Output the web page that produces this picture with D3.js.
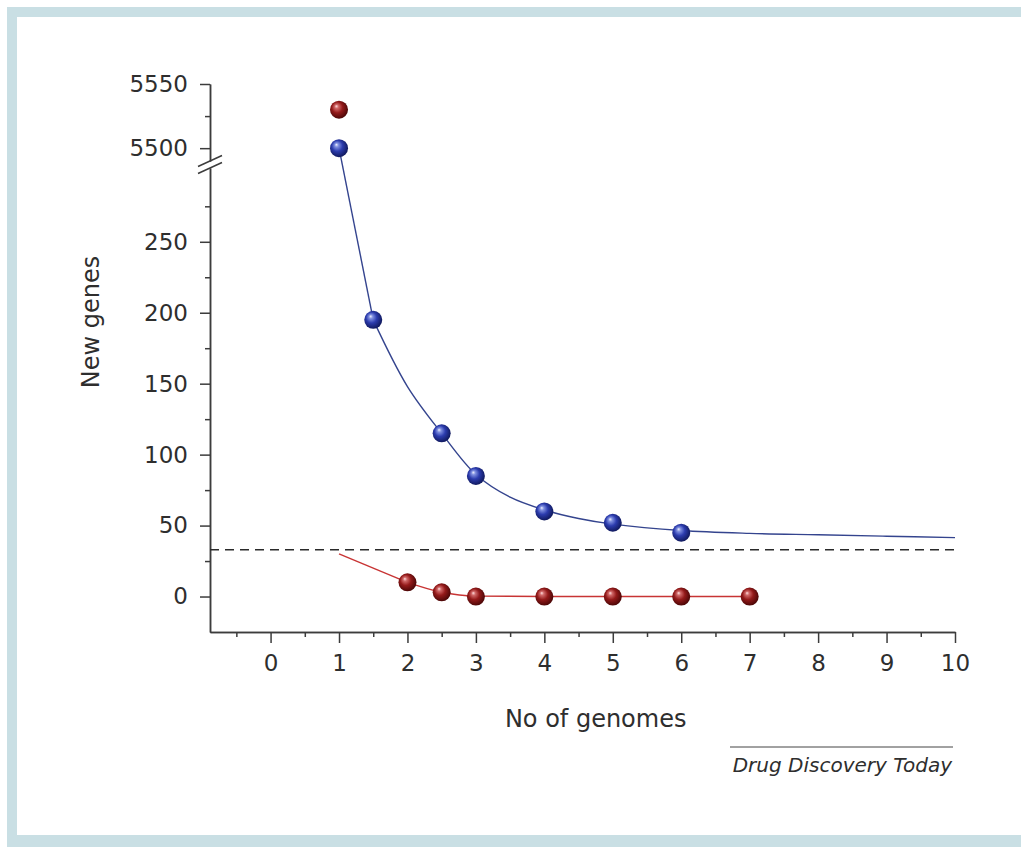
<!DOCTYPE html>
<html><head><meta charset="utf-8">
<script src="https://cdn.jsdelivr.net/npm/d3@7"></script>
<style>html,body{margin:0;padding:0;background:#fff;} svg{display:block;}</style>
</head><body><svg id="chart" width="1021" height="847"></svg>
<script>
// ---- data ----
const xTicks = [0,1,2,3,4,5,6,7,8,9,10];
const xMinorTicks = [-0.5,0.5,1.5,2.5,3.5,4.5,5.5,6.5,7.5,8.5,9.5];
const yLowerTicks = [0,50,100,150,200,250];
const yLowerMinor = [25,75,125,175,225,275];
const yUpperTicks = [5500,5550];
const yUpperMinor = [5525];
const blueX = [1,1.5,2.5,3,4,5,6];
const blueY = [5500,195,115,85,60,52,45];
const blueFitX = [1,1.5,2,2.5,3,3.5,4,4.5,5,6,7,8,9,10];
const blueFitY = [5500,195,148,115,86,70,61,55,51,46.5,44.5,43.5,42.5,41.5];
const redX = [1,2,2.5,3,4,5,6,7];
const redY = [5530,10,3,0,0,0,0,0];
const redFitX = [1,2,2.5,3,4,5,6,7];
const redFitY = [30,10,3,0.3,0,0,0,0];
const thresholdY = 33;
const xLabel = "No of genomes";
const yLabel = "New genes";
const credit = "Drug Discovery Today";

// ---- layout ----
const W = 1021, H = 847;
const axisLeft = 210, axisRight = 955, axisBottom = 632;
const lowerTop = 168, upperBottom = 161, upperTop = 84;
const FONT = "DejaVu Sans, sans-serif";
const TXT = "#2e2e2e", AX = "#3c3c3c";

const svg = d3.select("#chart");

// frame
svg.append("rect").attr("x",0).attr("y",0).attr("width",W).attr("height",H).attr("fill","#fff");
svg.append("rect").attr("x",7).attr("y",7).attr("width",W-7).attr("height",H-7).attr("fill","#c9dfe4");
svg.append("rect").attr("x",17).attr("y",17).attr("width",W-17).attr("height",835-17).attr("fill","#fff");

// scales
const x = d3.scaleLinear().domain([-0.885,10]).range([axisLeft,axisRight]);
const yLow = d3.scaleLinear().domain([-25,302]).range([axisBottom,lowerTop]);
const yUp = d3.scaleLinear().domain([5490,5550]).range([upperBottom,upperTop]);
const yPos = v => v > 1000 ? yUp(v) : yLow(v);

// gradients
const defs = svg.append("defs");
function sphere(id, stops){
  const g = defs.append("radialGradient").attr("id",id)
    .attr("cx","45%").attr("cy","45%").attr("r","60%").attr("fx","35%").attr("fy","30%");
  stops.forEach(s=>g.append("stop").attr("offset",s[0]).attr("stop-color",s[1]));
}
sphere("gBlue",[[0,"#eef0ff"],[0.18,"#8090e0"],[0.5,"#2c3cae"],[1,"#0c1452"]]);
sphere("gRed",[[0,"#ffe0e0"],[0.18,"#d06868"],[0.5,"#941a1a"],[1,"#420404"]]);

function styleAxis(g, size){
  g.selectAll("path.domain").attr("stroke",AX).attr("stroke-width",1.5);
  g.selectAll(".tick line").attr("stroke",AX).attr("stroke-width",1.5);
  g.selectAll(".tick text").attr("fill",TXT).style("font-family",FONT).style("font-size",size+"px");
}

// x axis
const gx = svg.append("g").attr("transform",`translate(0,${axisBottom})`)
  .call(d3.axisBottom(x).tickValues(xTicks).tickSize(11).tickSizeOuter(0).tickPadding(12).tickFormat(d3.format("d")));
styleAxis(gx,23);
const gxm = svg.append("g").attr("transform",`translate(0,${axisBottom})`)
  .call(d3.axisBottom(x).tickValues(xMinorTicks).tickSize(5).tickSizeOuter(0).tickFormat(""));
styleAxis(gxm,23);

// y lower axis
const gyl = svg.append("g").attr("transform",`translate(${axisLeft},0)`)
  .call(d3.axisLeft(yLow).tickValues(yLowerTicks).tickSize(10).tickSizeOuter(0).tickPadding(12));
styleAxis(gyl,23);
const gylm = svg.append("g").attr("transform",`translate(${axisLeft},0)`)
  .call(d3.axisLeft(yLow).tickValues(yLowerMinor).tickSize(5).tickSizeOuter(0).tickFormat(""));
styleAxis(gylm,23);
// y upper axis
const gyu = svg.append("g").attr("transform",`translate(${axisLeft},0)`)
  .call(d3.axisLeft(yUp).tickValues(yUpperTicks).tickSize(10).tickSizeOuter(0).tickPadding(12).tickFormat(d3.format("d")));
styleAxis(gyu,23);
const gyum = svg.append("g").attr("transform",`translate(${axisLeft},0)`)
  .call(d3.axisLeft(yUp).tickValues(yUpperMinor).tickSize(5).tickSizeOuter(0).tickFormat(""));
styleAxis(gyum,23);

// break marks
const bm = (upperBottom + lowerTop)/2;
[-3.5, 3.5].forEach(o=>{
  svg.append("line").attr("x1",axisLeft-12).attr("y1",bm+o+5.5).attr("x2",axisLeft+12).attr("y2",bm+o-5.5)
    .attr("stroke",AX).attr("stroke-width",1.5);
});

// threshold dashed line
svg.append("line").attr("x1",axisLeft).attr("x2",axisRight)
  .attr("y1",yLow(thresholdY)).attr("y2",yLow(thresholdY))
  .attr("stroke","#2a2a2a").attr("stroke-width",1.4).attr("stroke-dasharray","9,6");

// fitted curves
const straight = d3.line().x(d=>x(d[0])).y(d=>yPos(d[1]));
const smooth = d3.line().x(d=>x(d[0])).y(d=>yPos(d[1])).curve(d3.curveCatmullRom.alpha(0.5));
const mono = d3.line().x(d=>x(d[0])).y(d=>yPos(d[1])).curve(d3.curveMonotoneX);
const bluePts = blueFitX.map((v,i)=>[v,blueFitY[i]]);
const redPts = redFitX.map((v,i)=>[v,redFitY[i]]);
const blueStroke = {stroke:"#34448e", w:1.4}, redStroke = {stroke:"#c83434", w:1.4};
function drawPath(d, s){
  svg.append("path").attr("d",d).attr("fill","none").attr("stroke",s.stroke).attr("stroke-width",s.w).attr("stroke-linejoin","round");
}
drawPath(straight(bluePts.slice(0,2)), blueStroke);
drawPath(smooth(bluePts.slice(1)), blueStroke);
drawPath(straight(redPts.slice(0,2)), redStroke);
drawPath(mono(redPts.slice(1)), redStroke);

// points
svg.selectAll("circle.red").data(redX.map((v,i)=>[v,redY[i]])).enter().append("circle")
  .attr("class","red").attr("cx",d=>x(d[0])).attr("cy",d=>yPos(d[1])).attr("r",9).attr("fill","url(#gRed)");
svg.selectAll("circle.blue").data(blueX.map((v,i)=>[v,blueY[i]])).enter().append("circle")
  .attr("class","blue").attr("cx",d=>x(d[0])).attr("cy",d=>yPos(d[1])).attr("r",9).attr("fill","url(#gBlue)");

// labels
svg.append("text").attr("x",x(4.75)).attr("y",727).attr("text-anchor","middle")
  .attr("fill",TXT).style("font-family",FONT).style("font-size","24px").text(xLabel);
svg.append("text").attr("transform",`translate(99,322) rotate(-90)`).attr("text-anchor","middle")
  .attr("fill",TXT).style("font-family",FONT).style("font-size","24px").text(yLabel);

// credit
svg.append("line").attr("x1",730).attr("x2",953).attr("y1",747).attr("y2",747).attr("stroke","#444").attr("stroke-width",1);
svg.append("text").attr("x",952).attr("y",772).attr("text-anchor","end").attr("fill",TXT)
  .style("font-family",FONT).style("font-size","20px").style("font-style","italic").text(credit);
</script></body></html>
